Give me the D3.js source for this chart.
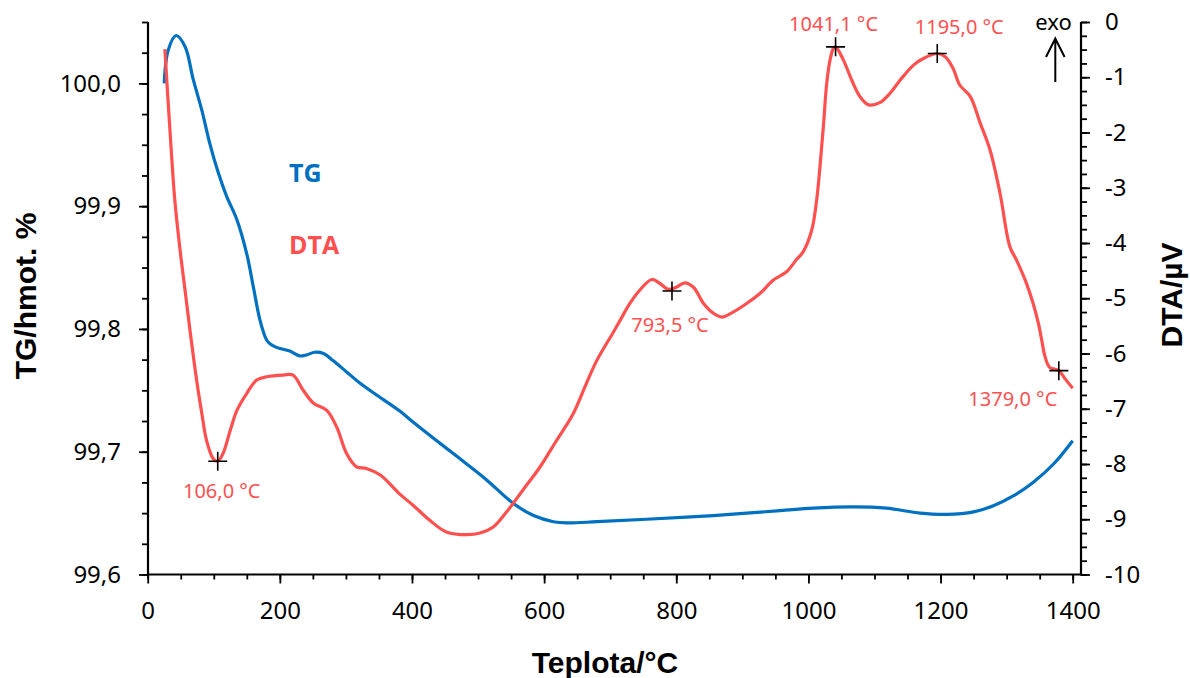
<!DOCTYPE html>
<html>
<head>
<meta charset="utf-8">
<script src="https://cdn.jsdelivr.net/npm/d3@7"></script>
<style>
  html, body { margin: 0; padding: 0; background: #fff; }
  svg { display: block; }
</style>
</head>
<body>
<svg id="chart" width="1190" height="678"></svg>
<script>
// Thermal analysis: TG (mass %) and DTA (µV) against temperature
const tgTemp = [25, 31, 43, 56.5, 69, 82, 94, 107, 119.5, 135, 150, 160, 170, 180, 185, 195, 215, 230, 241, 253, 266, 281, 301, 321, 347, 382, 402, 442, 478, 513, 553, 584, 614, 634, 680, 755, 856, 957, 1007, 1068, 1118, 1169, 1209, 1250, 1280, 1310, 1340, 1371, 1400];
const tgValues = [100.000, 100.027, 100.039, 100.030, 100.003, 99.978, 99.951, 99.927, 99.908, 99.889, 99.861, 99.834, 99.807, 99.791, 99.788, 99.785, 99.782, 99.778, 99.779, 99.781, 99.780, 99.774, 99.765, 99.756, 99.746, 99.733, 99.724, 99.707, 99.692, 99.677, 99.658, 99.648, 99.643, 99.642, 99.643, 99.645, 99.648, 99.652, 99.654, 99.655, 99.654, 99.650, 99.649, 99.651, 99.656, 99.664, 99.675, 99.690, 99.709];

const dtaTemp = [26, 34, 41, 49, 56.5, 64, 74, 82, 89, 99, 106, 114, 125, 135, 150, 165, 180, 205, 220, 235, 251, 271, 286, 301, 316, 331, 352, 382, 402, 427, 452, 483, 503, 523, 543, 568, 594, 619, 644, 664, 680, 705, 715, 730, 745, 763, 775, 788, 800, 813, 826, 841, 856, 869, 886, 907, 927, 947, 967, 982, 992, 1005, 1012.5, 1017.5, 1022.6, 1027.7, 1032.7, 1037.7, 1041.1, 1053, 1065.5, 1078, 1091, 1108, 1123.5, 1139, 1159, 1174, 1195, 1207, 1219, 1229, 1245, 1260, 1275, 1290, 1305, 1315, 1330, 1340, 1348, 1353, 1358, 1365, 1379, 1388, 1400];
const dtaValues = [-0.49, -2.02, -3.22, -4.13, -4.85, -5.58, -6.48, -7.09, -7.57, -7.90, -7.95, -7.81, -7.39, -7.03, -6.72, -6.48, -6.42, -6.39, -6.39, -6.66, -6.90, -7.03, -7.33, -7.81, -8.05, -8.08, -8.20, -8.55, -8.75, -9.02, -9.23, -9.28, -9.25, -9.14, -8.87, -8.47, -8.05, -7.57, -7.09, -6.54, -6.12, -5.61, -5.40, -5.09, -4.85, -4.66, -4.73, -4.84, -4.80, -4.72, -4.80, -5.09, -5.27, -5.34, -5.25, -5.09, -4.91, -4.67, -4.52, -4.30, -4.16, -3.77, -3.22, -2.62, -1.90, -1.11, -0.69, -0.48, -0.45, -0.69, -1.05, -1.35, -1.50, -1.46, -1.29, -1.05, -0.78, -0.66, -0.57, -0.63, -0.84, -1.14, -1.35, -1.83, -2.32, -3.10, -4.07, -4.31, -4.73, -5.09, -5.45, -5.75, -6.05, -6.25, -6.31, -6.45, -6.63];

// Marked DTA peaks
const peakTemp = [106.0, 793.5, 1041.1, 1195.0, 1379.0];
const peakValues = [-7.95, -4.87, -0.45, -0.57, -6.31];
const peakLabels = ["106,0 °C", "793,5 °C", "1041,1 °C", "1195,0 °C", "1379,0 °C"];
// label placement relative to each cross (px)
const peakLabelOffset = [[4, 37], [-2, 41], [-2, -16], [22, -19], [-46, 35]];

const xTicks = [0, 200, 400, 600, 800, 1000, 1200, 1400];
const tgTicks = [99.6, 99.7, 99.8, 99.9, 100.0];
const dtaTicks = [0, -1, -2, -3, -4, -5, -6, -7, -8, -9, -10];

const BLUE = "#0070C0";
const RED = "#FF5050";
const TICK_FONT = "'Noto Sans', 'Open Sans', sans-serif";

const svg = d3.select("#chart");

const plotLeft = 148, plotRight = 1081, plotTop = 22, plotBottom = 574.5;
const x = d3.scaleLinear().domain([0, 1400]).range([147.7, 1072.7]);
const yTG = d3.scaleLinear().domain([99.6, 100.05]).range([plotBottom, plotTop]);
const yDTA = d3.scaleLinear().domain([-10, 0]).range([plotBottom, plotTop]);

const fmtComma = d => d3.format(".1f")(d).replace(".", ",");

function styleAxis(g) {
  g.selectAll(".domain").remove();
  g.selectAll(".tick line").attr("stroke", "#000").attr("stroke-width", 1.8);
  g.selectAll(".tick text")
    .attr("fill", "#000")
    .style("font-family", TICK_FONT)
    .style("font-size", "24px");
}

// minor ticks
const minorX = d3.range(0, 1401, 50);
const minorTG = d3.range(0, 19).map(i => 99.6 + i * 0.025);
const minorDTA = d3.range(0, 41).map(i => -10 + i * 0.25);

svg.append("g").attr("transform", `translate(0,${plotBottom})`)
  .call(d3.axisBottom(x).tickValues(minorX).tickSize(5).tickFormat(""))
  .call(styleAxis);
svg.append("g").attr("transform", `translate(${plotLeft},0)`)
  .call(d3.axisLeft(yTG).tickValues(minorTG).tickSize(6).tickFormat(""))
  .call(styleAxis);
svg.append("g").attr("transform", `translate(${plotRight},0)`)
  .call(d3.axisRight(yDTA).tickValues(minorDTA).tickSize(6).tickFormat(""))
  .call(styleAxis);

// major ticks with labels
svg.append("g").attr("transform", `translate(0,${plotBottom})`)
  .call(d3.axisBottom(x).tickValues(xTicks).tickSize(9).tickPadding(18).tickFormat(d3.format("d")))
  .call(styleAxis);
svg.append("g").attr("transform", `translate(${plotLeft},0)`)
  .call(d3.axisLeft(yTG).tickValues(tgTicks).tickSize(9).tickPadding(18).tickFormat(fmtComma))
  .call(styleAxis);
svg.append("g").attr("transform", `translate(${plotRight},0)`)
  .call(d3.axisRight(yDTA).tickValues(dtaTicks).tickSize(9).tickPadding(15).tickFormat(d => d === 0 ? "0" : "-" + Math.abs(d)))
  .call(styleAxis);

// axis lines
const axisLines = svg.append("g").attr("stroke", "#000").attr("stroke-width", 2.2);
axisLines.append("line").attr("x1", plotLeft).attr("x2", plotLeft).attr("y1", plotTop).attr("y2", plotBottom + 1);
axisLines.append("line").attr("x1", plotRight).attr("x2", plotRight).attr("y1", plotTop).attr("y2", plotBottom + 1);
axisLines.append("line").attr("x1", plotLeft - 1).attr("x2", plotRight + 1).attr("y1", plotBottom).attr("y2", plotBottom);

// curves
const tgData = tgTemp.map((t, i) => [t, tgValues[i]]);
const dtaData = dtaTemp.map((t, i) => [t, dtaValues[i]]);
const smooth = d3.curveCatmullRom.alpha(0.5);

svg.append("path")
  .datum(tgData)
  .attr("fill", "none")
  .attr("stroke", BLUE)
  .attr("stroke-width", 3.2)
  .attr("stroke-linejoin", "round")
  .attr("d", d3.line().x(d => x(d[0])).y(d => yTG(d[1])).curve(smooth));

svg.append("path")
  .datum(dtaData)
  .attr("fill", "none")
  .attr("stroke", RED)
  .attr("stroke-width", 3.2)
  .attr("stroke-linejoin", "round")
  .attr("d", d3.line().x(d => x(d[0])).y(d => yDTA(d[1])).curve(smooth));

// peak markers and labels
const peaks = svg.append("g");
peakTemp.forEach((t, i) => {
  const px = x(t), py = yDTA(peakValues[i]);
  peaks.append("path")
    .attr("d", `M${px - 9.5},${py}H${px + 9.5}M${px},${py - 9.5}V${py + 9.5}`)
    .attr("stroke", "#000").attr("stroke-width", 1.6).attr("fill", "none");
  peaks.append("text")
    .attr("x", px + peakLabelOffset[i][0])
    .attr("y", py + peakLabelOffset[i][1])
    .attr("text-anchor", "middle")
    .attr("fill", RED)
    .style("font-family", TICK_FONT)
    .style("font-size", "20px")
    .text(peakLabels[i]);
});

// series labels
svg.append("text").attr("x", 289).attr("y", 182)
  .attr("fill", BLUE)
  .style("font-family", "'Open Sans', 'Noto Sans', sans-serif")
  .style("font-weight", "bold").style("font-size", "25px")
  .text("TG");
svg.append("text").attr("x", 289).attr("y", 254)
  .attr("fill", RED)
  .style("font-family", "'Open Sans', 'Noto Sans', sans-serif")
  .style("font-weight", "bold").style("font-size", "25px")
  .text("DTA");

// exo direction arrow
svg.append("text").attr("x", 1053.5).attr("y", 30)
  .attr("text-anchor", "middle")
  .attr("fill", "#000")
  .style("font-family", TICK_FONT)
  .style("font-size", "22px")
  .text("exo");
svg.append("path")
  .attr("d", "M1055.3,82V39M1046,57L1055.3,38.5L1064.6,57")
  .attr("stroke", "#000").attr("stroke-width", 2).attr("fill", "none");

// axis titles
const TITLE_FONT = "'Liberation Sans', Arial, sans-serif";
svg.append("text")
  .attr("x", 605).attr("y", 673)
  .attr("text-anchor", "middle")
  .style("font-family", TITLE_FONT).style("font-weight", "bold").style("font-size", "30px")
  .text("Teplota/°C");
svg.append("text")
  .attr("transform", "translate(36,296) rotate(-90)")
  .attr("text-anchor", "middle")
  .style("font-family", TITLE_FONT).style("font-weight", "bold").style("font-size", "30px")
  .text("TG/hmot. %");
svg.append("text")
  .attr("transform", "translate(1182,295) rotate(-90)")
  .attr("text-anchor", "middle")
  .style("font-family", TITLE_FONT).style("font-weight", "bold").style("font-size", "30px")
  .text("DTA/µV");
</script>
</body>
</html>
